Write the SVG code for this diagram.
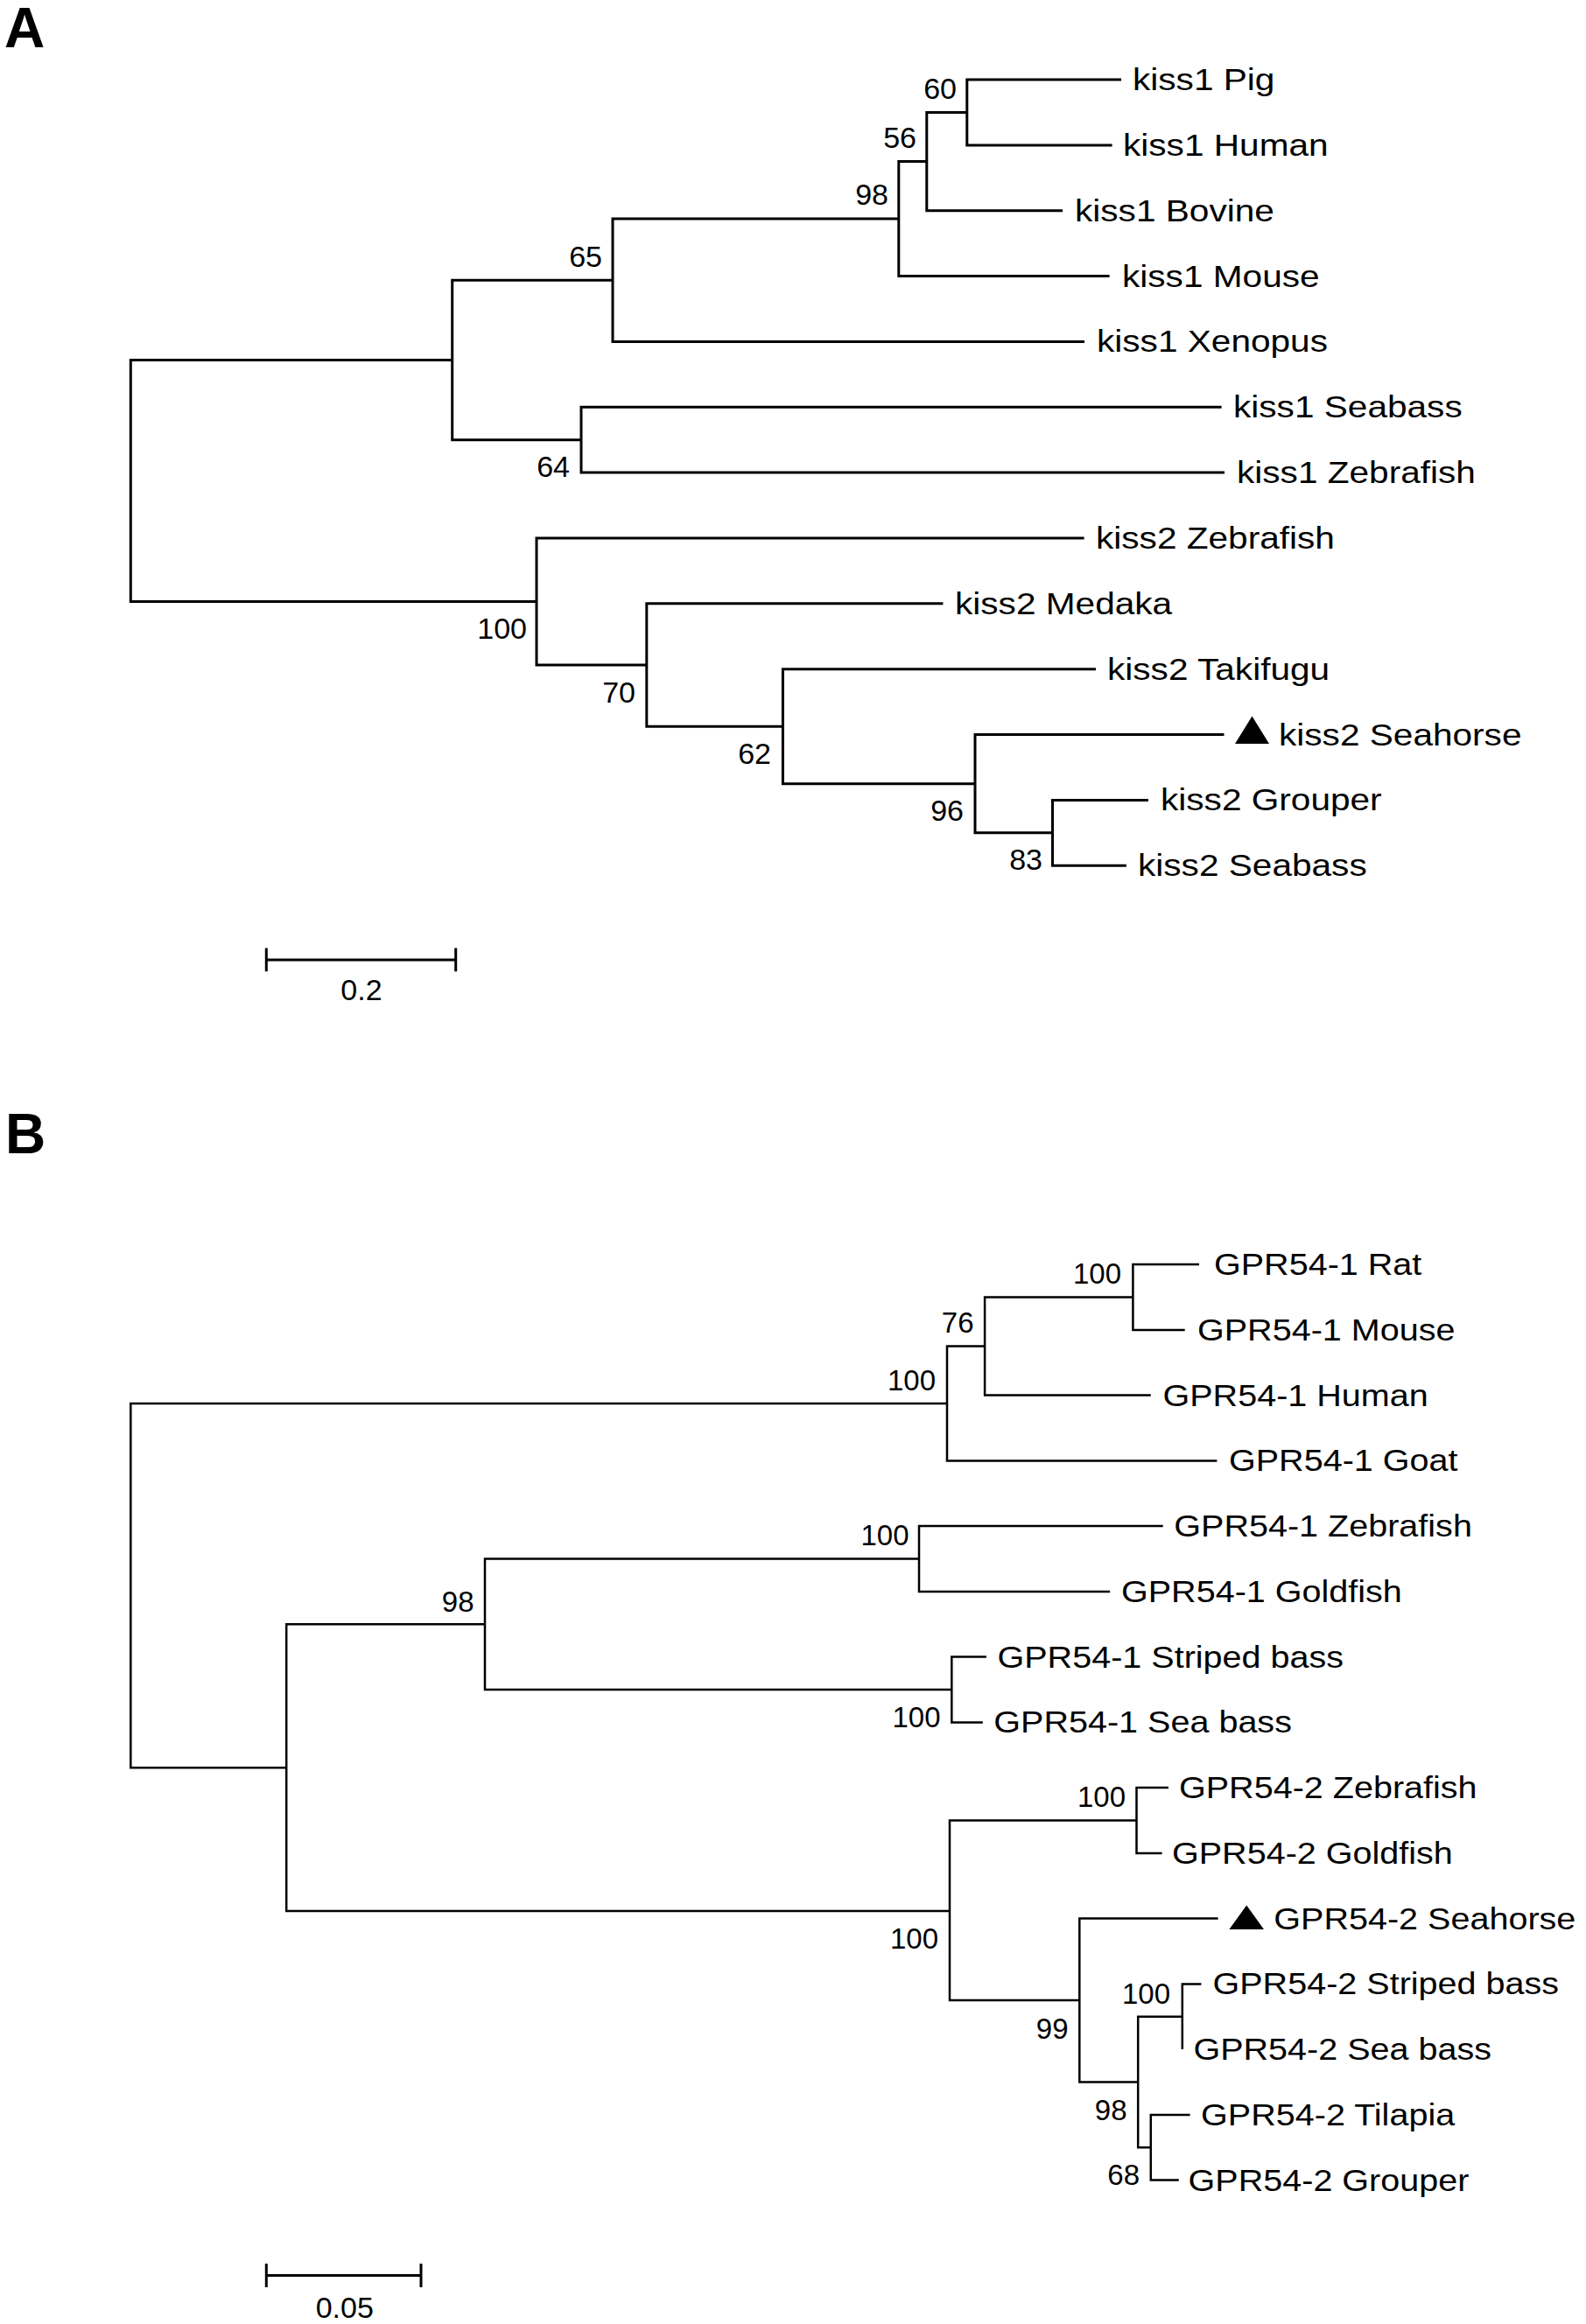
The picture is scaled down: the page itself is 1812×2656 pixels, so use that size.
<svg xmlns="http://www.w3.org/2000/svg" width="1812" height="2656" viewBox="0 0 1812 2656">
<style>
.br{fill:none;stroke:#000;stroke-linejoin:miter}
.a{stroke-width:3}
.b{stroke-width:2.5}
.lab{font-family:"Liberation Sans",Arial,sans-serif;font-size:35px;fill:#000}
.num{font-family:"Liberation Sans",Arial,sans-serif;font-size:34px;fill:#000;text-anchor:end}
.numb{font-family:"Liberation Sans",Arial,sans-serif;font-size:33px;fill:#000;text-anchor:end}
.pan{font-family:"Liberation Sans",Arial,sans-serif;font-size:64px;font-weight:bold;fill:#000}
.sc{font-family:"Liberation Sans",Arial,sans-serif;font-size:34px;fill:#000;text-anchor:middle}
</style>
<rect width="1812" height="2656" fill="#fff"/>
<text class="pan" x="5" y="54">A</text>
<text class="pan" x="6" y="1318">B</text>
<g id="connectors">
<g class="br a">
<path d="M516.7,411.5 H149.3 V687.5 H613"/>
<path d="M700,320.3 H516.7 V502.7 H664"/>
<path d="M1026.8,250.1 H700 V390.4 H1239"/>
<path d="M1058.8,184.6 H1026.8 V315.6 H1267.6"/>
<path d="M1104.8,128.4 H1058.8 V240.7 H1214"/>
<path d="M1281,91 H1104.8 V165.9 H1270.6"/>
<path d="M1395.6,465.3 H664 V540.1 H1399"/>
<path d="M1238.6,615 H613 V760 H738.8"/>
<path d="M1077.4,689.8 H738.8 V830.2 H894.4"/>
<path d="M1252,764.7 H894.4 V895.7 H1114"/>
<path d="M1398.5,839.5 H1114 V951.8 H1202.5"/>
<path d="M1311.9,914.4 H1202.5 V989.2 H1286.8"/>
<path d="M304.3,1097 H520.7 M304.3,1083.5 V1110.3 M520.7,1083.5 V1110.3"/>
</g>
<g class="br b">
<path d="M1082,1604 H149.3 V2020.3 H327.2"/>
<path d="M1125.1,1538.5 H1082 V1669.4 H1390.4"/>
<path d="M1294.4,1482.5 H1125.1 V1594.6 H1314.8"/>
<path d="M1370,1445.1 H1294.4 V1519.9 H1353.7"/>
<path d="M554,1856.3 H327.2 V2184 H1085"/>
<path d="M1050,1781.5 H554 V1931 H1087.3"/>
<path d="M1328.7,1744.1 H1050 V1818.9 H1268.2"/>
<path d="M1126.9,1893.6 H1087.3 V1968.4 H1122.8"/>
<path d="M1298.5,2080.5 H1085 V2286 H1233.3"/>
<path d="M1335,2043.1 H1298.5 V2117.9 H1327.6"/>
<path d="M1391.6,2192.6 H1233.3 V2379.5 H1300.2"/>
<path d="M1350.8,2304.8 H1300.2 V2454.3 H1314.8"/>
<path d="M1372.4,2267.4 H1350.8 V2342.1"/>
<path d="M1359.6,2416.9 H1314.8 V2491.6 H1346.8"/>
<path d="M304.3,2600.6 H481 M304.3,2587 V2614 M481,2587 V2614" stroke-width="3"/>
</g>
</g>
<g id="leaf-a-pig"><text class="lab" transform="translate(1294,103) scale(1.16,1)">kiss1 Pig</text></g>
<g id="leaf-a-human"><text class="lab" transform="translate(1283,178) scale(1.16,1)">kiss1 Human</text></g>
<g id="leaf-a-bovine"><text class="lab" transform="translate(1228,253) scale(1.16,1)">kiss1 Bovine</text></g>
<g id="leaf-a-mouse"><text class="lab" transform="translate(1282,328) scale(1.16,1)">kiss1 Mouse</text></g>
<g id="leaf-a-xenopus"><text class="lab" transform="translate(1253,402) scale(1.16,1)">kiss1 Xenopus</text></g>
<g id="leaf-a-seabass1"><text class="lab" transform="translate(1409,477) scale(1.16,1)">kiss1 Seabass</text></g>
<g id="leaf-a-zebrafish1"><text class="lab" transform="translate(1413,552) scale(1.16,1)">kiss1 Zebrafish</text></g>
<g id="leaf-a-zebrafish2"><text class="lab" transform="translate(1252,627) scale(1.16,1)">kiss2 Zebrafish</text></g>
<g id="leaf-a-medaka"><text class="lab" transform="translate(1091,702) scale(1.16,1)">kiss2 Medaka</text></g>
<g id="leaf-a-takifugu"><text class="lab" transform="translate(1265,777) scale(1.16,1)">kiss2 Takifugu</text></g>
<g id="leaf-a-seahorse"><polygon points="1411,850 1450,850 1430.5,818.5" fill="#000"/><text class="lab" transform="translate(1461,851.5) scale(1.16,1)">kiss2 Seahorse</text></g>
<g id="leaf-a-grouper"><text class="lab" transform="translate(1326,926) scale(1.16,1)">kiss2 Grouper</text></g>
<g id="leaf-a-seabass2"><text class="lab" transform="translate(1300,1001) scale(1.16,1)">kiss2 Seabass</text></g>
<g id="node-a-60"><text class="num" x="1093" y="112.5">60</text></g>
<g id="node-a-56"><text class="num" x="1047" y="168.6">56</text></g>
<g id="node-a-98"><text class="num" x="1015" y="234">98</text></g>
<g id="node-a-65"><text class="num" x="688" y="305">65</text></g>
<g id="node-a-64"><text class="num" x="651" y="545">64</text></g>
<g id="node-a-100"><text class="num" x="602" y="730">100</text></g>
<g id="node-a-70"><text class="num" x="726" y="803">70</text></g>
<g id="node-a-62"><text class="num" x="881" y="873">62</text></g>
<g id="node-a-96"><text class="num" x="1101" y="938">96</text></g>
<g id="node-a-83"><text class="num" x="1191" y="993.6">83</text></g>
<g id="scale-a"><text class="sc" x="413" y="1142.5">0.2</text></g>
<g id="leaf-b-rat"><text class="lab" transform="translate(1387,1457) scale(1.13,1)">GPR54-1 Rat</text></g>
<g id="leaf-b-mouse"><text class="lab" transform="translate(1368,1532) scale(1.13,1)">GPR54-1 Mouse</text></g>
<g id="leaf-b-human"><text class="lab" transform="translate(1328.5,1606.6) scale(1.13,1)">GPR54-1 Human</text></g>
<g id="leaf-b-goat"><text class="lab" transform="translate(1404,1681.4) scale(1.13,1)">GPR54-1 Goat</text></g>
<g id="leaf-b-zebrafish1"><text class="lab" transform="translate(1341.3,1756.1) scale(1.13,1)">GPR54-1 Zebrafish</text></g>
<g id="leaf-b-goldfish1"><text class="lab" transform="translate(1281,1830.9) scale(1.13,1)">GPR54-1 Goldfish</text></g>
<g id="leaf-b-striped1"><text class="lab" transform="translate(1139.5,1905.6) scale(1.13,1)">GPR54-1 Striped bass</text></g>
<g id="leaf-b-seabass1"><text class="lab" transform="translate(1135.3,1980.4) scale(1.13,1)">GPR54-1 Sea bass</text></g>
<g id="leaf-b-zebrafish2"><text class="lab" transform="translate(1347,2055.1) scale(1.13,1)">GPR54-2 Zebrafish</text></g>
<g id="leaf-b-goldfish2"><text class="lab" transform="translate(1339,2129.9) scale(1.13,1)">GPR54-2 Goldfish</text></g>
<g id="leaf-b-seahorse"><polygon points="1404.4,2205 1444,2205 1424.2,2177.5" fill="#000"/><text class="lab" transform="translate(1455.3,2204.6) scale(1.13,1)">GPR54-2 Seahorse</text></g>
<g id="leaf-b-striped2"><text class="lab" transform="translate(1385.5,2279.4) scale(1.13,1)">GPR54-2 Striped bass</text></g>
<g id="leaf-b-seabass2"><text class="lab" transform="translate(1363.4,2354.1) scale(1.13,1)">GPR54-2 Sea bass</text></g>
<g id="leaf-b-tilapia"><text class="lab" transform="translate(1372.1,2428.9) scale(1.13,1)">GPR54-2 Tilapia</text></g>
<g id="leaf-b-grouper"><text class="lab" transform="translate(1357.6,2503.6) scale(1.13,1)">GPR54-2 Grouper</text></g>
<g id="node-b-rat"><text class="numb" x="1281" y="1467">100</text></g>
<g id="node-b-76"><text class="numb" x="1112.5" y="1523">76</text></g>
<g id="node-b-mammal"><text class="numb" x="1069" y="1589">100</text></g>
<g id="node-b-fish1"><text class="numb" x="1038.5" y="1766">100</text></g>
<g id="node-b-98a"><text class="numb" x="541.5" y="1842">98</text></g>
<g id="node-b-striped1"><text class="numb" x="1074.5" y="1974">100</text></g>
<g id="node-b-zeb2"><text class="numb" x="1286" y="2065">100</text></g>
<g id="node-b-gpr2"><text class="numb" x="1072" y="2227">100</text></g>
<g id="node-b-striped2"><text class="numb" x="1337" y="2290">100</text></g>
<g id="node-b-99"><text class="numb" x="1220.5" y="2329.6">99</text></g>
<g id="node-b-98b"><text class="numb" x="1287.5" y="2423">98</text></g>
<g id="node-b-68"><text class="numb" x="1302" y="2497">68</text></g>
<g id="scale-b"><text class="sc" x="393.8" y="2649">0.05</text></g>
</svg>
